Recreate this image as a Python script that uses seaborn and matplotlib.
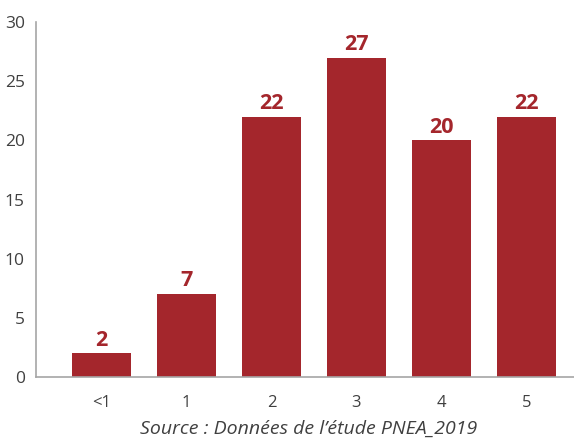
import matplotlib
matplotlib.use("Agg")
import matplotlib.pyplot as plt
import seaborn as sns
import pandas as pd

categories = ["<1", "1", "2", "3", "4", "5"]
values = [2, 7, 22, 27, 20, 22]
yticks = [0, 5, 10, 15, 20, 25, 30]
source = "Source : Données de l\u2019étude PNEA_2019"

sns.set_style("white")
plt.rcParams['font.family'] = ['Open Sans', 'DejaVu Sans']

df = pd.DataFrame({"cat": categories, "val": values})
fig = plt.figure(figsize=(5.74, 4.40), dpi=100)
ax = fig.add_axes([0.0627, 0.143, 0.9373, 0.807])
red = "#A4262C"
sns.barplot(data=df, x="cat", y="val", color=red, width=0.7, saturation=1,
            linewidth=0, edgecolor=red, ax=ax)
ax.set_xlim(-0.77, 5.56)
ax.set_ylim(0, 30)
ax.set_yticks(yticks)
ax.set_xlabel("")
ax.set_ylabel("")
for s in ["top", "right"]:
    ax.spines[s].set_visible(False)
for s in ["left", "bottom"]:
    ax.spines[s].set_color("#A6A6A6")
    ax.spines[s].set_linewidth(1.2)
ax.tick_params(axis="y", direction="in", length=8, color="#A6A6A6", labelsize=12.5, labelcolor="#404040", pad=8)
ax.tick_params(axis="x", length=0, labelsize=12, labelcolor="#404040", pad=13)
for c in ax.containers:
    ax.bar_label(c, labels=[str(v) for v in values], padding=2, color=red, fontsize=15.5, fontweight="bold")
fig.text(0.537, 0.004, source, ha="center", va="bottom", fontsize=14, style="italic", color="#404040")
fig.savefig("out.png", dpi=100)
